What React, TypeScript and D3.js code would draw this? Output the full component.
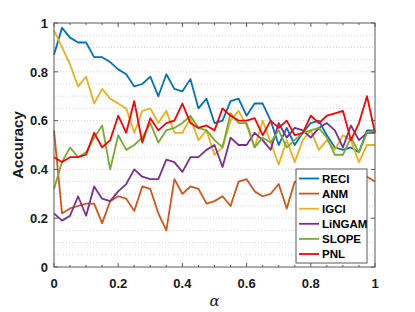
import React from "react";
import * as d3 from "d3";

// alpha goes from 0 to 1 in steps of 0.025 (41 points)
const alphas = d3.range(41).map((i) => i / 40);

const reci = [0.87, 0.98, 0.94, 0.92, 0.92, 0.86, 0.86, 0.84, 0.81, 0.79, 0.74, 0.75, 0.78, 0.70, 0.79, 0.73, 0.72, 0.77, 0.65, 0.69, 0.59, 0.60, 0.68, 0.69, 0.62, 0.67, 0.67, 0.60, 0.50, 0.57, 0.50, 0.55, 0.59, 0.60, 0.54, 0.49, 0.48, 0.49, 0.47, 0.56, 0.56];
const anm = [0.56, 0.22, 0.24, 0.25, 0.26, 0.26, 0.18, 0.27, 0.29, 0.28, 0.23, 0.33, 0.32, 0.22, 0.15, 0.36, 0.30, 0.33, 0.32, 0.26, 0.27, 0.29, 0.25, 0.35, 0.36, 0.31, 0.29, 0.30, 0.34, 0.24, 0.35, 0.33, 0.36, 0.31, 0.37, 0.34, 0.38, 0.40, 0.38, 0.37, 0.35];
const igci = [0.97, 0.90, 0.83, 0.74, 0.78, 0.67, 0.73, 0.69, 0.67, 0.65, 0.55, 0.64, 0.65, 0.59, 0.64, 0.55, 0.55, 0.61, 0.52, 0.56, 0.46, 0.49, 0.60, 0.64, 0.58, 0.49, 0.60, 0.51, 0.42, 0.52, 0.43, 0.52, 0.56, 0.48, 0.52, 0.48, 0.54, 0.52, 0.43, 0.50, 0.50];
const lingam = [0.22, 0.19, 0.21, 0.29, 0.21, 0.33, 0.28, 0.27, 0.31, 0.34, 0.40, 0.37, 0.36, 0.36, 0.44, 0.43, 0.39, 0.45, 0.45, 0.48, 0.50, 0.41, 0.53, 0.50, 0.50, 0.55, 0.52, 0.48, 0.59, 0.53, 0.57, 0.56, 0.53, 0.57, 0.59, 0.56, 0.49, 0.58, 0.52, 0.55, 0.55];
const slope = [0.32, 0.43, 0.49, 0.45, 0.47, 0.53, 0.58, 0.40, 0.54, 0.48, 0.50, 0.53, 0.59, 0.51, 0.56, 0.57, 0.59, 0.62, 0.57, 0.56, 0.52, 0.49, 0.63, 0.59, 0.59, 0.49, 0.53, 0.51, 0.56, 0.49, 0.52, 0.55, 0.56, 0.57, 0.53, 0.46, 0.46, 0.53, 0.47, 0.55, 0.56];
const pnl = [0.45, 0.43, 0.45, 0.45, 0.46, 0.55, 0.49, 0.52, 0.62, 0.55, 0.68, 0.51, 0.61, 0.56, 0.59, 0.60, 0.67, 0.59, 0.57, 0.58, 0.56, 0.65, 0.62, 0.60, 0.60, 0.61, 0.54, 0.60, 0.57, 0.60, 0.54, 0.55, 0.62, 0.59, 0.62, 0.63, 0.64, 0.52, 0.59, 0.70, 0.55];

const seriesNames = ["RECI", "ANM", "IGCI", "LiNGAM", "SLOPE", "PNL"];
const seriesValues = [reci, anm, igci, lingam, slope, pnl];
const colors = ["#0072BD", "#D95319", "#EDB120", "#7E2F8E", "#77AC30", "#FF0000"];

const tickValues = [0, 0.2, 0.4, 0.6, 0.8, 1];
const tickLabels = ["0", "0.2", "0.4", "0.6", "0.8", "1"];

const WIDTH = 415;
const HEIGHT = 312;
const LEFT = 54;
const RIGHT = 375;
const TOP = 23;
const BOTTOM = 267;
const FONT = "'Liberation Sans', Arial, Helvetica, sans-serif";
const AXIS = "#5a5a5a";

export default function App() {
  const x = d3.scaleLinear().domain([0, 1]).range([LEFT, RIGHT]);
  const y = d3.scaleLinear().domain([0, 1]).range([BOTTOM, TOP]);

  const line = d3
    .line<number>()
    .x((_, i) => x(alphas[i]))
    .y((d) => y(d));

  const minor = d3.range(21).map((i) => i / 20);

  const legendX = 296;
  const legendY = 169;
  const legendW = 71;
  const legendH = 94;
  const rowH = 15.1;

  return (
    <svg
      width={WIDTH}
      height={HEIGHT}
      style={{ position: "absolute", left: 0, top: 0, background: "#fff" }}
    >
      {/* dotted horizontal grid every 0.05 */}
      {minor.slice(1, -1).map((v) => (
        <line
          key={"g" + v}
          x1={LEFT}
          x2={RIGHT}
          y1={y(v)}
          y2={y(v)}
          stroke="#c8c8c8"
          strokeWidth={0.8}
          strokeDasharray="1,2"
        />
      ))}

      {/* data lines */}
      {seriesValues.map((vals, k) => (
        <path
          key={seriesNames[k]}
          d={line(vals) ?? ""}
          fill="none"
          stroke={colors[k]}
          strokeWidth={1.8}
          strokeLinejoin="round"
        />
      ))}

      {/* axes box */}
      <rect
        x={LEFT}
        y={TOP}
        width={RIGHT - LEFT}
        height={BOTTOM - TOP}
        fill="none"
        stroke={AXIS}
        strokeWidth={1}
      />

      {/* x ticks: bottom and top, inward */}
      {minor.map((v) => {
        const major = tickValues.some((t) => Math.abs(t - v) < 1e-9);
        const len = major ? 4 : 2;
        return (
          <g key={"xt" + v}>
            <line x1={x(v)} x2={x(v)} y1={BOTTOM} y2={BOTTOM - len} stroke={AXIS} />
            <line x1={x(v)} x2={x(v)} y1={TOP} y2={TOP + len} stroke={AXIS} />
          </g>
        );
      })}
      {/* y ticks: left and right, inward */}
      {tickValues.map((v) => (
        <g key={"yt" + v}>
          <line x1={LEFT} x2={LEFT + 4} y1={y(v)} y2={y(v)} stroke={AXIS} />
          <line x1={RIGHT} x2={RIGHT - 4} y1={y(v)} y2={y(v)} stroke={AXIS} />
        </g>
      ))}

      {/* tick labels */}
      {tickValues.map((v, i) => (
        <text
          key={"xl" + v}
          x={x(v)}
          y={BOTTOM + 21}
          textAnchor="middle"
          fontFamily={FONT}
          fontWeight="bold"
          fontSize={13}
          fill="#1a1a1a"
        >
          {tickLabels[i]}
        </text>
      ))}
      {tickValues.map((v, i) => (
        <text
          key={"yl" + v}
          x={LEFT - 6}
          y={y(v) + 4.7}
          textAnchor="end"
          fontFamily={FONT}
          fontWeight="bold"
          fontSize={13}
          fill="#1a1a1a"
        >
          {tickLabels[i]}
        </text>
      ))}

      {/* axis labels */}
      <text
        x={(LEFT + RIGHT) / 2}
        y={306}
        textAnchor="middle"
        fontFamily="'DejaVu Serif', 'Liberation Serif', serif"
        fontStyle="italic"
        fontSize={15}
        fill="#1a1a1a"
      >
        α
      </text>
      <text
        transform={`translate(23, ${(TOP + BOTTOM) / 2}) rotate(-90)`}
        textAnchor="middle"
        fontFamily={FONT}
        fontWeight="bold"
        fontSize={15}
        fill="#1a1a1a"
      >
        Accuracy
      </text>

      {/* legend */}
      <rect
        x={legendX}
        y={legendY}
        width={legendW}
        height={legendH}
        fill="#fff"
        stroke={AXIS}
        strokeWidth={1}
      />
      {seriesNames.map((name, k) => {
        const cy = legendY + 9.5 + k * rowH;
        return (
          <g key={"lg" + name}>
            <line
              x1={legendX + 3}
              x2={legendX + 23}
              y1={cy}
              y2={cy}
              stroke={colors[k]}
              strokeWidth={1.8}
            />
            <text
              x={legendX + 26}
              y={cy + 4}
              fontFamily={FONT}
              fontWeight="bold"
              fontSize={11.5}
              fill="#000"
            >
              {name}
            </text>
          </g>
        );
      })}
    </svg>
  );
}
